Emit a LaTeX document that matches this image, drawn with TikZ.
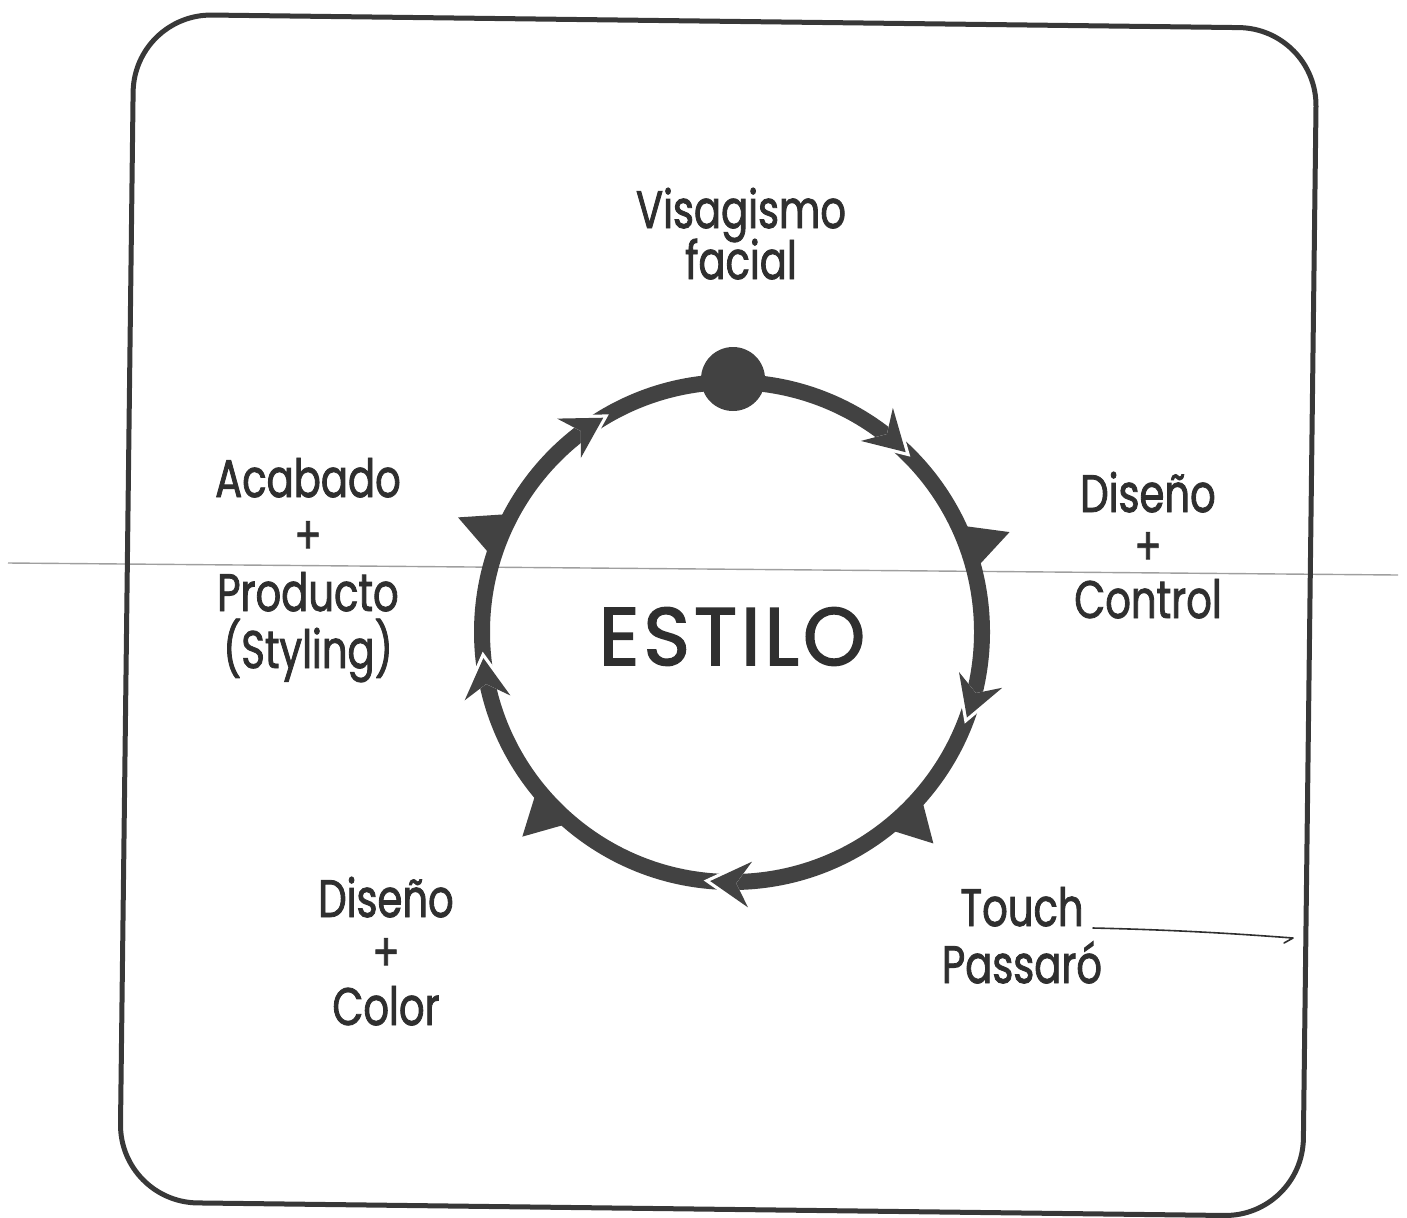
\documentclass[tikz,border=0pt]{standalone}
\usepackage{fontspec}
\newfontfamily\lbl{Poppins}[FakeStretch=0.76, FakeBold=1.6]
\newfontfamily\lblwide{Poppins}[FakeStretch=0.97, FakeBold=2, LetterSpace=5]
\definecolor{ink}{HTML}{2F2F2F}
\definecolor{ringc}{HTML}{424242}
\definecolor{framec}{HTML}{383838}
\newcommand\lblstack[2]{\vtop{\baselineskip=#1\lineskiplimit=-1000pt\lineskip=0pt\halign{\hfil##\hfil\cr#2\crcr}}}
\begin{document}
\begin{tikzpicture}[x=1bp,y=1bp,
  lab/.style={text=ink, inner sep=0pt, anchor=base, font=\lbl\fontsize{53}{53}\selectfont},
  bigtxt/.style={text=ink, inner sep=0pt, anchor=base, font=\lblwide\fontsize{82}{82}\selectfont},
  ringline/.style={draw=ringc, line width=16bp},
  framebox/.style={draw=framec, line width=5bp, rounded corners=78bp},
  scan/.style={draw=gray!75, line width=1.4bp},
  pen/.style={draw=ink, line width=1.6bp, line cap=round, line join=round}]
\useasboundingbox (0,0) rectangle (1407,-1217);
% scan line
\coordinate (sl) at (8,-563);
\coordinate (sr) at (1398,-575);
\draw[scan] (sl) -- (sr);
% frame
\draw[framebox, rotate around={-0.7:(718.25,-615.25)}] (126.75,-21.25) rectangle (1309.75,-1209.25);
% ring
\coordinate (C) at (732,-632);
\draw[ringline] (C) circle (250);
% triangles
\foreach \a/\r in {19.8/295, -46.4/292, -135.7/293, 157.3/297}{
  \fill[ringc, shift={(C)}] ({\a+5.5}:250) -- (\a:\r) -- ({\a-5.5}:250) -- cycle;
}
% chevrons
\foreach \a in {46,-20,-95,186,121}{
  \begin{scope}[shift={(C)}, shift={(\a:250)}, rotate=\a-90]
    \fill[white] (6.5,0) -- (-43.5,28.75) -- (-26,0) -- (-43.5,-28.75) -- cycle;
    \fill[ringc] (0,0) -- (-40,23) -- (-26,0) -- (-40,-23) -- cycle;
  \end{scope}
}
% dot
\node[circle, fill=ringc, minimum size=64bp, inner sep=0pt] (dot) at (733,-379) {};
% labels
\node[lab] (visa) at (741,-228) {\lblstack{51bp}{Visagismo\cr facial}};
\node[lab] (acab) at (308,-497) {\lblstack{57bp}{Acabado\cr +\cr Producto\cr (Styling)}};
\node[lab] (ctrl) at (1148,-512) {\lblstack{53bp}{Diseño\cr +\cr Control}};
\node[lab] (touch) at (1022,-926) {\lblstack{57bp}{Touch\cr Passaró}};
\node[lab] (color) at (386,-917) {\lblstack{54bp}{Diseño\cr +\cr Color}};
\node[bigtxt] (estilo) at (732,-665) {ESTILO};
% hand-drawn line
\coordinate (h1) at (1093,-928);
\coordinate (h2) at (1293,-938);
\coordinate (h3) at (1284,-943);
\draw[pen] (h1) .. controls (1180,-930) and (1240,-934) .. (h2) -- (h3);
\end{tikzpicture}
\end{document}
